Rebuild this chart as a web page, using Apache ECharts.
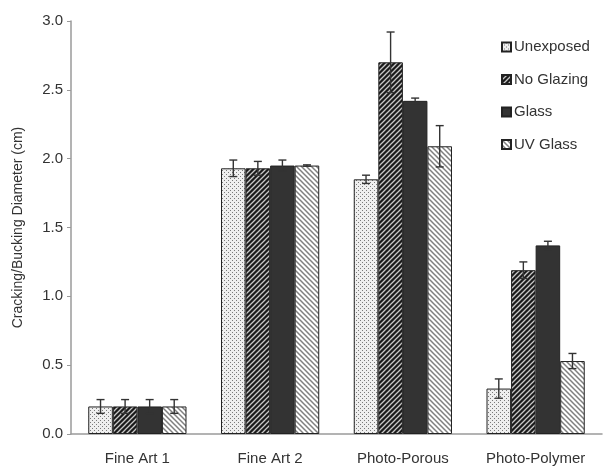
<!DOCTYPE html>
<html>
<head>
<meta charset="utf-8">
<script src="https://cdn.jsdelivr.net/npm/echarts@6/dist/echarts.min.js"></script>
<style>html,body{margin:0;padding:0;background:#fff;}#c{width:604px;height:466px;}</style>
</head>
<body>
<div id="c"></div>
<script>
const categories = ['Fine Art 1', 'Fine Art 2', 'Photo-Porous', 'Photo-Polymer'];
const seriesNames = ['Unexposed', 'No Glazing', 'Glass', 'UV Glass'];
const unexposed = [0.20, 1.93, 1.85, 0.33];
const noGlazing = [0.20, 1.93, 2.70, 1.19];
const glass = [0.20, 1.95, 2.42, 1.37];
const uvGlass = [0.20, 1.95, 2.09, 0.53];
const errUnexposed = [0.05, 0.06, 0.03, 0.07];
const errNoGlazing = [0.05, 0.05, 0.22, 0.06];
const errGlass = [0.05, 0.04, 0.02, 0.03];
const errUvGlass = [0.05, 0.005, 0.15, 0.055];
const yTicks = [0, 0.5, 1.0, 1.5, 2.0, 2.5, 3.0];

const values = [unexposed, noGlazing, glass, uvGlass];
const errors = [errUnexposed, errNoGlazing, errGlass, errUvGlass];

function mk(size, draw) {
  const c = document.createElement('canvas');
  c.width = size; c.height = size;
  const g = c.getContext('2d');
  draw(g, size);
  return c;
}
function diag(g, s, dir) {
  g.beginPath();
  if (dir > 0) { // "/"
    g.moveTo(-1, s + 1); g.lineTo(s + 1, -1);
    g.moveTo(-1, 1); g.lineTo(1, -1);
    g.moveTo(s - 1, s + 1); g.lineTo(s + 1, s - 1);
  } else { // "\"
    g.moveTo(-1, -1); g.lineTo(s + 1, s + 1);
    g.moveTo(s - 1, -1); g.lineTo(s + 1, 1);
    g.moveTo(-1, s - 1); g.lineTo(1, s + 1);
  }
  g.stroke();
}
const patDots = mk(4, (g, s) => {
  g.fillStyle = '#efefef'; g.fillRect(0, 0, s, s);
  g.fillStyle = '#7a7a7a';
  g.fillRect(0, 0, 1, 1); g.fillRect(2, 2, 1, 1);
});
const patDark = mk(5, (g, s) => {
  g.fillStyle = '#1a1a1a'; g.fillRect(0, 0, s, s);
  g.strokeStyle = '#c8c8c8'; g.lineWidth = 1.3;
  diag(g, s, 1);
});
const patLight = mk(5, (g, s) => {
  g.fillStyle = '#ffffff'; g.fillRect(0, 0, s, s);
  g.strokeStyle = '#808080'; g.lineWidth = 1.5;
  diag(g, s, -1);
});
const fills = [
  { image: patDots, repeat: 'repeat' },
  { image: patDark, repeat: 'repeat' },
  '#333333',
  { image: patLight, repeat: 'repeat' }
];

const GAP = 0.26;
const series = [];
seriesNames.forEach((n, i) => {
  series.push({
    name: n, type: 'bar', data: values[i],
    barGap: '0%', barCategoryGap: (GAP * 100) + '%',
    itemStyle: { color: fills[i], borderColor: '#222', borderWidth: 1 },
    z: 2
  });
});
seriesNames.forEach((n, i) => {
  series.push({
    type: 'custom', name: 'err' + i, z: 5,
    data: categories.map((c, k) => [k, values[i][k], errors[i][k]]),
    renderItem: function (params, api) {
      const k = api.value(0), v = api.value(1), e = api.value(2);
      const band = api.size([1, 0])[0];
      const bw = band * (1 - GAP) / 4;
      const cx = api.coord([k, 0])[0] - band * (1 - GAP) / 2 + bw * (i + 0.5);
      const yt = api.coord([k, v + e])[1];
      const yb = api.coord([k, v - e])[1];
      const st = { stroke: '#333', lineWidth: 1.4 };
      const cap = 4;
      return {
        type: 'group',
        children: [
          { type: 'line', shape: { x1: cx, y1: yt, x2: cx, y2: yb }, style: st },
          { type: 'line', shape: { x1: cx - cap, y1: yt, x2: cx + cap, y2: yt }, style: st },
          { type: 'line', shape: { x1: cx - cap, y1: yb, x2: cx + cap, y2: yb }, style: st }
        ]
      };
    }
  });
});

const chart = echarts.init(document.getElementById('c'), null, { renderer: 'canvas' });
const font = 'Liberation Sans, Arial, sans-serif';
chart.setOption({
  animation: false,
  backgroundColor: '#ffffff',
  textStyle: { fontFamily: font },
  grid: { left: 71, right: 2, top: 21, bottom: 28, containLabel: false },
  legend: {
    data: seriesNames,
    orient: 'vertical',
    left: 496, top: 34,
    itemWidth: 9, itemHeight: 9, itemGap: 16.5,
    icon: 'rect',
    textStyle: { fontSize: 15, color: '#333', fontFamily: font, padding: [0, 0, 0, -2], lineHeight: 16 }
  },
  xAxis: {
    type: 'category', data: categories,
    axisLine: { lineStyle: { color: '#9a9a9a', width: 1.5 } },
    axisTick: { show: false },
    axisLabel: { fontSize: 15, color: '#333', margin: 17, fontFamily: font }
  },
  yAxis: {
    type: 'value', min: yTicks[0], max: yTicks[yTicks.length - 1], interval: 0.5,
    name: 'Cracking/Bucking Diameter (cm)',
    nameLocation: 'middle', nameGap: 46, nameRotate: 90,
    nameTextStyle: { fontSize: 14, color: '#333', fontFamily: font },
    axisLine: { show: true, lineStyle: { color: '#9a9a9a', width: 1.5 } },
    axisTick: { show: true, length: 4, lineStyle: { color: '#9a9a9a' } },
    splitLine: { show: false },
    axisLabel: { fontSize: 15, color: '#333', margin: 8, fontFamily: font,
      formatter: v => v.toFixed(1) }
  },
  series: series
});
</script>
</body>
</html>
